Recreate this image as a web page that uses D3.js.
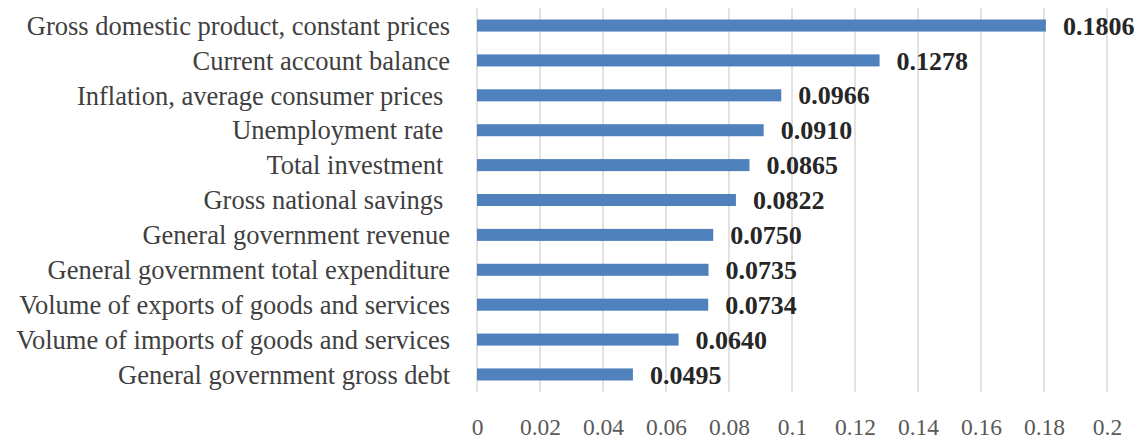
<!DOCTYPE html>
<html lang="en">
<head>
    <meta charset="UTF-8">
    <title>Indicator weights</title>
    <style>
        body { margin: 0; background: #fff; }
        svg text { font-family: "Liberation Serif", "Times New Roman", serif; white-space: pre; }
        .grid line { stroke: #d9d9d9; stroke-width: 1.5px; }
        .cat { fill: #404040; font-size: 26.5px; }
        .val { fill: #262626; font-size: 26px; font-weight: bold; }
        .tick text { fill: #595959; font-size: 23.5px; }
    </style>
    <script src="https://d3js.org/d3.v7.min.js"></script>
</head>
<body>
    <svg id="chart" width="1138" height="441"></svg>
    <script>
        // data, top to bottom
        const categories = [
            "Gross domestic product, constant prices",
            "Current account balance",
            "Inflation, average consumer prices ",
            "Unemployment rate ",
            "Total investment ",
            "Gross national savings ",
            "General government revenue",
            "General government total expenditure",
            "Volume of exports of goods and services",
            "Volume of imports of goods and services",
            "General government gross debt"
        ];
        const values = [0.1806, 0.1278, 0.0966, 0.0910, 0.0865, 0.0822, 0.0750, 0.0735, 0.0734, 0.0640, 0.0495];
        const xTicks = [0, 0.02, 0.04, 0.06, 0.08, 0.1, 0.12, 0.14, 0.16, 0.18, 0.2];

        const svg = d3.select("#chart");
        const plotLeft = 477, plotRight = 1107, plotTop = 8, plotBottom = 392;

        const x = d3.scaleLinear().domain([0, 0.2]).range([plotLeft, plotRight]);
        const y = d3.scaleBand().domain(categories).range([plotTop, plotBottom]).paddingInner(0.655).paddingOuter(0.33);

        // vertical gridlines
        svg.append("g").attr("class", "grid")
            .selectAll("line")
            .data(xTicks)
            .enter().append("line")
            .attr("x1", d => x(d)).attr("x2", d => x(d))
            .attr("y1", plotTop).attr("y2", plotBottom);

        // x axis labels (no axis line)
        const xAxis = svg.append("g")
            .attr("transform", "translate(0,435)")
            .call(d3.axisBottom(x).tickValues(xTicks).tickSize(0).tickFormat(d => String(d)));
        xAxis.select(".domain").remove();
        xAxis.attr("font-family", null).attr("font-size", null);
        xAxis.selectAll("text").attr("y", 0).attr("dy", 0);

        // bars
        svg.append("g").selectAll("rect")
            .data(values)
            .enter().append("rect")
            .attr("x", x(0))
            .attr("y", (d, i) => y(categories[i]))
            .attr("width", d => x(d) - x(0))
            .attr("height", y.bandwidth())
            .attr("fill", "#4f81bd");

        // category labels
        svg.append("g").selectAll("text")
            .data(categories)
            .enter().append("text")
            .attr("class", "cat")
            .attr("x", plotLeft - 27)
            .attr("y", d => y(d) + y.bandwidth() / 2)
            .attr("dy", "0.35em")
            .attr("text-anchor", "end")
            .text(d => d);

        // value labels
        svg.append("g").selectAll("text")
            .data(values)
            .enter().append("text")
            .attr("class", "val")
            .attr("x", d => x(d) + 17)
            .attr("y", (d, i) => y(categories[i]) + y.bandwidth() / 2)
            .attr("dy", "0.35em")
            .text(d => d.toFixed(4));
    </script>
</body>
</html>
